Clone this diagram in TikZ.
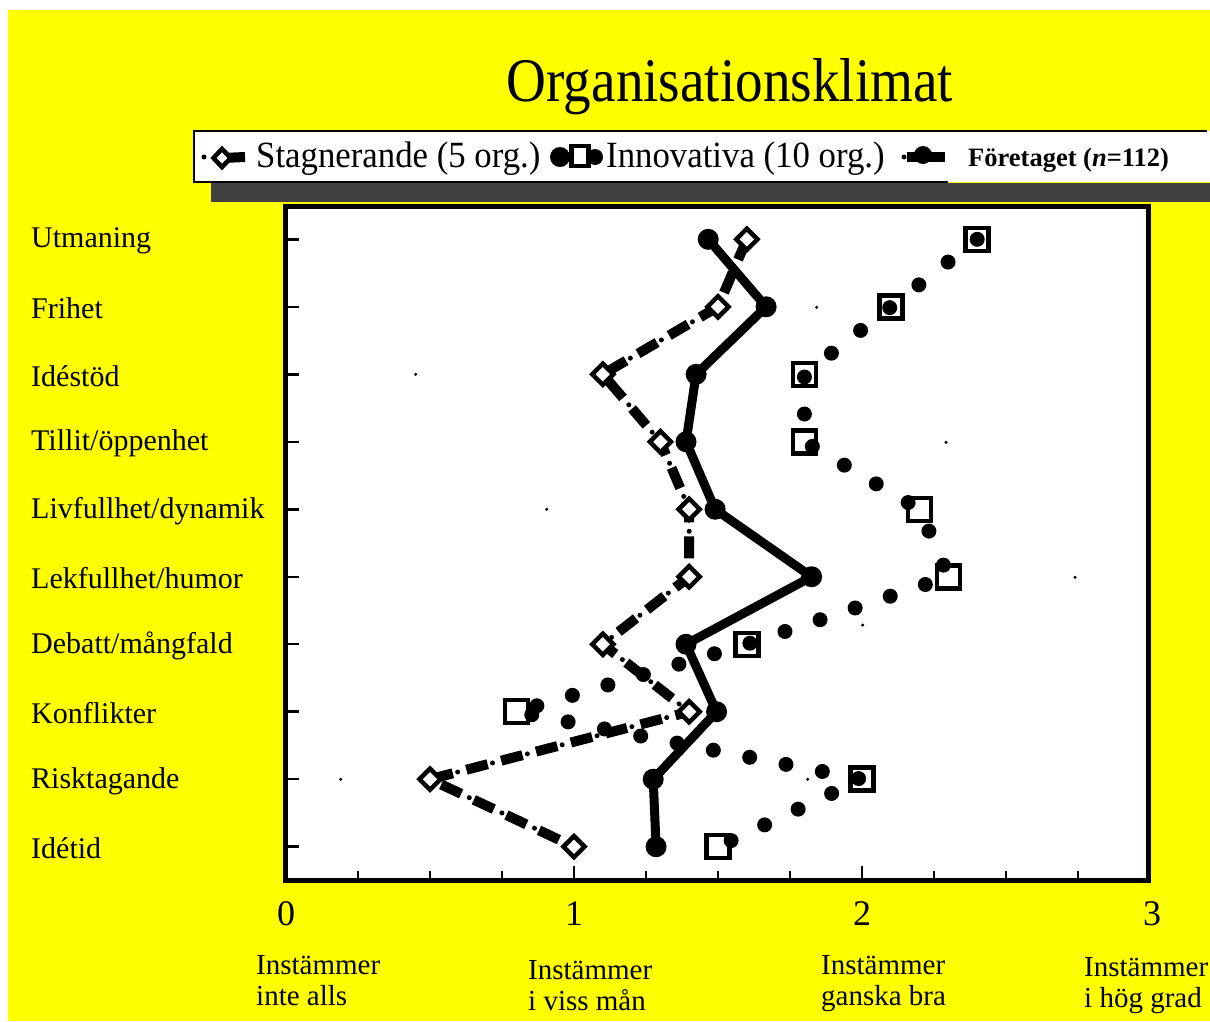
\documentclass[tikz,border=0pt]{standalone}
\usepackage{fontspec}
\setmainfont{Liberation Serif}
\newfontfamily\titlefont[FakeStretch=0.89]{Liberation Serif}
\newfontfamily\legendfont[FakeStretch=0.94]{Liberation Serif}
\usetikzlibrary{shapes.geometric}
\definecolor{chartyellow}{RGB}{255,255,0}
\definecolor{shadowgray}{RGB}{64,64,64}
\pgfdeclarelayer{background}
\pgfdeclarelayer{foreground}
\pgfsetlayers{background,main,foreground}
\tikzset{
  stagmark/.style={diamond, draw, fill=white, line width=4.5pt, minimum width=23pt, minimum height=23pt, inner sep=0pt},
  innovmark/.style={rectangle, draw, fill=white, line width=4.5pt, minimum size=23pt, inner sep=0pt},
  foretmark/.style={circle, fill=black, minimum size=21pt, inner sep=0pt},
  stagline/.style={line width=10pt, dash pattern=on 22pt off 14pt,
    postaction={draw, line width=5pt, line cap=round, dash pattern=on 0pt off 36pt, dash phase=5pt}},
  innovline/.style={line width=15pt, line cap=round, dash pattern=on 0pt off 37pt},
  foretline/.style={line width=9pt, line join=round},
  tickline/.style={line width=2.5pt},
  rowlabel/.style={anchor=west, inner sep=0pt, font=\fontsize{30}{30}\selectfont},
  ticklabel/.style={inner sep=0pt, font=\fontsize{36}{36}\selectfont},
  scalelabel/.style={anchor=west, align=left, inner sep=0pt, font=\fontsize{29}{31}\selectfont},
  legendtext/.style={anchor=west, inner sep=0pt, font=\legendfont\fontsize{37}{37}\selectfont},
}
\begin{document}
\begin{tikzpicture}[x=1pt, y=-1pt]
    \useasboundingbox (0,0) rectangle (1210,1021);
    \begin{pgfonlayer}{background}
        \fill[white] (0,0) rectangle (1210,1021);
        \fill[chartyellow] (8,10) rectangle (1210,1021);
        \fill[shadowgray] (211,183) rectangle (1210,202);
        \fill[white] (194,131) rectangle (1210,182);
        \draw[line width=1.2pt] (948,182) -- (194,182) -- (194,131) -- (1207,131);
        \draw[line width=5pt, fill=white] (285,206) rectangle (1148.5,880);

        \draw[tickline] (286,239.3) -- (299,239.3);
        \draw[tickline] (286,306.8) -- (299,306.8);
        \draw[tickline] (286,374.3) -- (299,374.3);
        \draw[tickline] (286,441.8) -- (299,441.8);
        \draw[tickline] (286,509.3) -- (299,509.3);
        \draw[tickline] (286,576.8) -- (299,576.8);
        \draw[tickline] (286,644.2) -- (299,644.2);
        \draw[tickline] (286,711.7) -- (299,711.7);
        \draw[tickline] (286,779.2) -- (299,779.2);
        \draw[tickline] (286,846.7) -- (299,846.7);

        \draw[tickline] (358,880) -- (358,871);
        \draw[tickline] (430,880) -- (430,871);
        \draw[tickline] (502,880) -- (502,871);
        \draw[tickline] (574,880) -- (574,866);
        \draw[tickline] (646,880) -- (646,871);
        \draw[tickline] (718,880) -- (718,871);
        \draw[tickline] (790,880) -- (790,871);
        \draw[tickline] (862,880) -- (862,866);
        \draw[tickline] (934,880) -- (934,871);
        \draw[tickline] (1006,880) -- (1006,871);
        \draw[tickline] (1078,880) -- (1078,871);

        \fill (415.7,374.3) circle (1.7);
        \fill (816.7,307.3) circle (1.7);
        \fill (946,442.3) circle (1.7);
        \fill (546.7,509.3) circle (1.7);
        \fill (1075,577.3) circle (1.7);
        \fill (862.7,625) circle (1.7);
        \fill (340.7,779.3) circle (1.7);
        \fill (807.7,779.3) circle (1.7);
    \end{pgfonlayer}

    \node[font=\titlefont\fontsize{62}{62}\selectfont] (title) at (730,87) {Organisationsklimat};

    \node[stagmark, minimum width=19pt, minimum height=20pt] (legs) at (222,158) {};
    \coordinate (legsend) at (245,157);
    \node[legendtext] (legstext) at (256,159) {Stagnerande (5 org.)};
    \node[innovmark, minimum width=17pt, minimum height=20pt] (legn) at (580,156) {};
    \node[legendtext] (legntext) at (606,159) {Innovativa (10 org.)};
    \node[foretmark, minimum size=18pt] (legf) at (923,155) {};
    \coordinate (legfstart) at (907,157);
    \coordinate (legfend) at (945,157);
    \node[anchor=west, inner sep=0pt, font=\bfseries\fontsize{26.5}{26.5}\selectfont] (legftext) at (968,160) {Företaget (\textit{n}=112)};
    \begin{pgfonlayer}{background}
        \fill (204,157) circle (2.5);
        \draw[line width=10pt] (legs.center) -- (legsend);
        \fill (560,157) circle (10);
        \fill (595,157) circle (8);
        \fill (904,157) circle (2.5);
        \draw[line width=10pt] (legfstart) -- (legfend);
    \end{pgfonlayer}

    \node[rowlabel] (lutm) at (31,241) {Utmaning};
    \node[rowlabel] (lfri) at (31,308.5) {Frihet};
    \node[rowlabel] (lide) at (31,376) {Idéstöd};
    \node[rowlabel] (ltil) at (31,443.5) {Tillit/öppenhet};
    \node[rowlabel] (lliv) at (31,511) {Livfullhet/dynamik};
    \node[rowlabel] (llek) at (31,578.5) {Lekfullhet/humor};
    \node[rowlabel] (ldeb) at (31,646) {Debatt/mångfald};
    \node[rowlabel] (lkon) at (31,713.5) {Konflikter};
    \node[rowlabel] (lris) at (31,781) {Risktagande};
    \node[rowlabel] (ltid) at (31,848.5) {Idétid};

    \node[ticklabel] (t0) at (286,914) {0};
    \node[ticklabel] (t1) at (574,914) {1};
    \node[ticklabel] (t2) at (862,914) {2};
    \node[ticklabel] (t3) at (1152,914) {3};

    \node[scalelabel] (sc0) at (256,981) {Instämmer\\inte alls};
    \node[scalelabel] (sc1) at (528,986) {Instämmer\\i viss mån};
    \node[scalelabel] (sc2) at (821,984) {Instämmer\\ganska bra};
    \node[scalelabel] (sc3) at (1084,986) {Instämmer\\i hög grad};

    \begin{scope}[shift={(286,239.3)}, x=288pt, y=-67.49pt]
        \node[innovmark] (n1) at (2.4,0) {};
        \node[innovmark] (n2) at (2.1,1) {};
        \node[innovmark] (n3) at (1.8,2) {};
        \node[innovmark] (n4) at (1.8,3) {};
        \node[innovmark] (n5) at (2.2,4) {};
        \node[innovmark] (n6) at (2.3,5) {};
        \node[innovmark] (n7) at (1.6,6) {};
        \node[innovmark] (n8) at (0.8,7) {};
        \node[innovmark] (n9) at (2.0,8) {};
        \node[innovmark] (n10) at (1.5,9) {};

        \node[stagmark] (s1) at (1.6,0) {};
        \node[stagmark] (s2) at (1.5,1) {};
        \node[stagmark] (s3) at (1.1,2) {};
        \node[stagmark] (s4) at (1.3,3) {};
        \node[stagmark] (s5) at (1.4,4) {};
        \node[stagmark] (s6) at (1.4,5) {};
        \node[stagmark] (s7) at (1.1,6) {};
        \node[stagmark] (s8) at (1.4,7) {};
        \node[stagmark] (s9) at (0.5,8) {};
        \node[stagmark] (s10) at (1.0,9) {};

        \node[foretmark] (f1) at (1.466,0) {};
        \node[foretmark] (f2) at (1.667,1) {};
        \node[foretmark] (f3) at (1.424,2) {};
        \node[foretmark] (f4) at (1.389,3) {};
        \node[foretmark] (f5) at (1.49,4) {};
        \node[foretmark] (f6) at (1.825,5) {};
        \node[foretmark] (f7) at (1.389,6) {};
        \node[foretmark] (f8) at (1.495,7) {};
        \node[foretmark] (f9) at (1.275,8) {};
        \node[foretmark] (f10) at (1.285,9) {};
    \end{scope}

    \begin{pgfonlayer}{background}
        \draw[stagline] (s1.center) -- (s2.center) -- (s3.center) -- (s4.center) -- (s5.center)
            -- (s6.center) -- (s7.center) -- (s8.center) -- (s9.center) -- (s10.center);
        \draw[foretline] (f1.center) -- (f2.center) -- (f3.center) -- (f4.center) -- (f5.center)
            -- (f6.center) -- (f7.center) -- (f8.center) -- (f9.center) -- (f10.center);
    \end{pgfonlayer}
    \begin{pgfonlayer}{foreground}
        \draw[innovline] (n1.center) -- (n2.center) -- (n3.center) -- (n4.center) -- (n5.center)
            -- (n6.center) -- (n7.center) -- (n8.center) -- (n9.center) -- (n10.center);
    \end{pgfonlayer}
\end{tikzpicture}
\end{document}
